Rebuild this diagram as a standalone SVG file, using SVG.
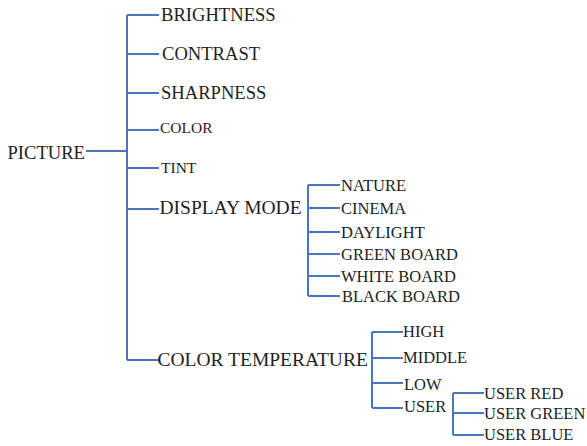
<svg xmlns="http://www.w3.org/2000/svg" width="587" height="446" viewBox="0 0 587 446">
<style>
text{font-family:"Liberation Serif","Times New Roman",serif;fill:#222;}
.l{font-size:18.6px;}
.xl{font-size:19.5px;}
.s{font-size:15.5px;}
.m{font-size:16.5px;}
.c{stroke:#4a76bd;stroke-width:2;fill:none;}
</style>
<rect width="587" height="446" fill="#fff"/>
<g id="connectors">
<path class="c" d="M86 151H127M127 15V360M127 15H159M127 54H159M127 93H159M127 130H159M127 168H159M127 209H159M127 360H159"/>
<path class="c" d="M308 185V296M308 185H340M308 208H340M308 232H340M308 254H340M308 276H340M308 296H340"/>
<path class="c" d="M372 332V408M372 332H403M372 358H403M372 383H403M372 408H403"/>
<path class="c" d="M453 393V435M453 393H484M453 413H484M453 435H484"/>
</g>
<g id="picture"><text class="l" x="7.5" y="159">PICTURE</text></g>
<g id="brightness"><text class="l" x="161" y="20.5">BRIGHTNESS</text></g>
<g id="contrast"><text class="l" x="162" y="59.5">CONTRAST</text></g>
<g id="sharpness"><text class="l" x="161" y="98.5">SHARPNESS</text></g>
<g id="color"><text class="s" x="160" y="133">COLOR</text></g>
<g id="tint"><text class="s" x="161" y="172.5">TINT</text></g>
<g id="display-mode"><text class="xl" x="159.5" y="213.5">DISPLAY MODE</text></g>
<g id="color-temperature"><text class="xl" x="157.5" y="366">COLOR TEMPERATURE</text></g>
<g id="nature"><text class="m" x="341" y="191">NATURE</text></g>
<g id="cinema"><text class="m" x="341" y="213.5">CINEMA</text></g>
<g id="daylight"><text class="m" x="341" y="237.5">DAYLIGHT</text></g>
<g id="green-board"><text class="m" x="341" y="260">GREEN BOARD</text></g>
<g id="white-board"><text class="m" x="341" y="281.5">WHITE BOARD</text></g>
<g id="black-board"><text class="m" x="342" y="301.5">BLACK BOARD</text></g>
<g id="high"><text class="m" x="403" y="337">HIGH</text></g>
<g id="middle"><text class="m" x="403" y="362.5">MIDDLE</text></g>
<g id="low"><text class="m" x="404" y="389.5">LOW</text></g>
<g id="user"><text class="m" x="404" y="412">USER</text></g>
<g id="user-red"><text class="m" x="484" y="399">USER RED</text></g>
<g id="user-green"><text class="m" x="484" y="419">USER GREEN</text></g>
<g id="user-blue"><text class="m" x="484" y="440">USER BLUE</text></g>
</svg>
